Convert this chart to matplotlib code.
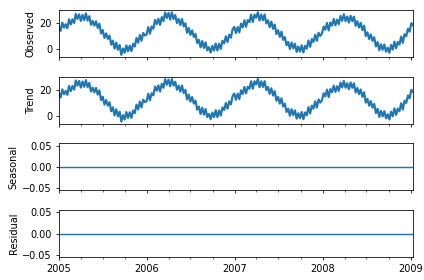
#!/usr/bin/env python3
"""
Seasonal decomposition panels: observed, trend, seasonal, residual.
Weekly readings 2005 - early 2009.
"""

import matplotlib
matplotlib.use("Agg")
import matplotlib.pyplot as plt
import matplotlib.dates as mdates
import pandas as pd

OUT_FILE = "out.png"

START_DATE = "2005-01-01"

# weekly values, one row per year
values_2005 = [17.5, 14.0, 20.2, 16.5, 19.0, 16.0, 22.8, 18.8, 22.7, 19.9,
               26.9, 23.0, 26.5, 21.5, 26.1, 22.1, 27.2, 21.8, 25.1, 18.5,
               21.5, 17.9, 21.3, 16.2, 19.4, 12.0, 14.6, 8.6, 12.1, 7.9,
               10.4, 3.6, 6.6, 0.5, 5.1, -0.3, 3.3, -4.2, 0.7, -2.6,
               3.0, -1.5, 2.8, -1.4, 4.2, 2.1, 8.6, 5.0, 10.9, 6.5,
               12.4, 10.5]
values_2006 = [11.2, 16.9, 11.9, 17.3, 15.6, 22.3, 19.1, 23.2, 18.5, 24.4,
               21.4, 27.9, 23.7, 27.6, 22.5, 28.0, 23.0, 25.9, 19.9, 23.0,
               18.4, 23.1, 17.4, 19.8, 12.5, 16.2, 10.9, 14.4, 9.4, 11.7,
               4.8, 7.2, 1.5, 6.3, 1.0, 5.3, -0.8, 1.6, -2.4, 2.6,
               -0.9, 4.4, -0.9, 4.2, 0.3, 6.5, 4.5, 9.9, 5.5, 11.1,
               8.8, 15.1]
values_2007 = [17.0, 12.3, 16.9, 12.8, 19.5, 16.6, 22.0, 17.1, 22.2, 20.6,
               26.3, 20.6, 26.3, 23.9, 28.1, 21.8, 26.3, 22.0, 26.4, 19.6,
               22.0, 16.8, 21.0, 15.5, 18.8, 11.6, 14.5, 9.4, 13.4, 7.2,
               9.3, 3.1, 5.6, 0.2, 5.2, 0.7, 4.3, -2.0, 2.1, -1.7,
               3.1, -2.4, 2.7, 0.5, 6.7, 1.9, 7.8, 5.6, 11.1, 6.4,
               12.6, 10.1]
values_2008 = [11.9, 17.2, 14.9, 20.0, 14.3, 20.4, 18.0, 23.0, 18.2, 22.5,
               19.0, 25.3, 21.6, 26.6, 21.4, 24.8, 20.2, 25.4, 21.3, 24.8,
               17.8, 21.3, 16.5, 20.1, 14.5, 18.0, 10.1, 12.9, 7.8, 11.3,
               6.4, 9.2, 2.2, 5.5, -0.7, 3.9, -0.3, 3.7, -1.8, 1.3,
               -2.6, 3.3, -0.2, 5.8, 0.8, 5.6, 3.6, 9.7, 4.9, 11.5,
               9.9, 15.6]
values_2009 = [13.4, 19.8, 18.2]

observed = values_2005 + values_2006 + values_2007 + values_2008 + values_2009
# trend follows the observed series; seasonal and residual are flat at zero
trend = list(observed)
seasonal = [0.0] * len(observed)
residual = [0.0] * len(observed)

panel_labels = ["Observed", "Trend", "Seasonal", "Residual"]


def plot_decomposition():
    dates = pd.date_range(START_DATE, periods=len(observed), freq="7D")
    series = [observed, trend, seasonal, residual]
    # noisy panels drawn a bit heavier so the weekly zigzag reads as a band
    widths = [2.2, 2.2, 1.5, 1.5]

    fig, axes = plt.subplots(4, 1, sharex=True, figsize=(6, 280 / (424 / 6)),
                             dpi=424 / 6)
    fig.patch.set_facecolor("white")

    for ax, vals, label, lw in zip(axes, series, panel_labels, widths):
        ax.plot(dates, vals, color="#1f77b4", linewidth=lw)
        ax.set_ylabel(label)

    axes[0].set_xlim(dates[0], dates[-1])
    axes[-1].xaxis.set_major_locator(mdates.YearLocator())
    axes[-1].xaxis.set_major_formatter(mdates.DateFormatter("%Y"))
    axes[-1].xaxis.set_minor_locator(mdates.MonthLocator(bymonth=[4, 7, 10]))

    fig.subplots_adjust(left=0.139, right=0.974, top=0.964, bottom=0.082,
                        hspace=0.42)
    fig.savefig(OUT_FILE, dpi=424 / 6, facecolor="white")
    plt.close(fig)


def main():
    plot_decomposition()


if __name__ == "__main__":
    main()
